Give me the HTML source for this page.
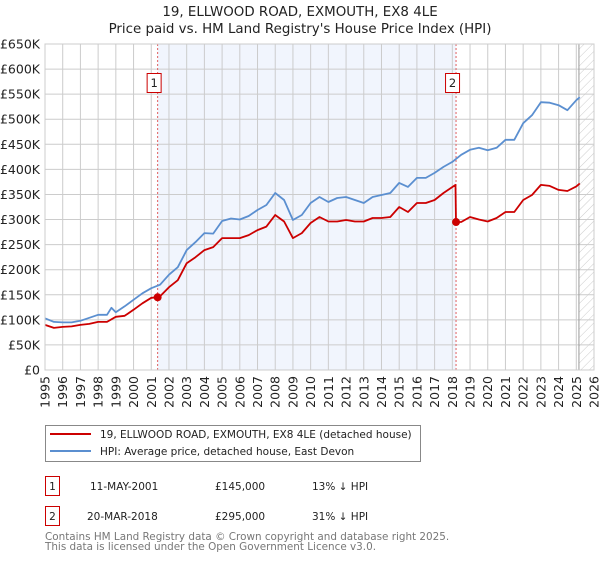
<!DOCTYPE html>
<html><head><meta charset="utf-8"><style>
body{margin:0;background:#fff;font-family:"DejaVu Sans","Liberation Sans",sans-serif;}
svg text{font-family:"DejaVu Sans","Liberation Sans",sans-serif;}
</style></head><body>
<svg id="chart" width="600" height="560" xmlns="http://www.w3.org/2000/svg">
<defs><pattern id="hatch" width="6" height="6" patternUnits="userSpaceOnUse" patternTransform="rotate(45)"><line x1="0" y1="0" x2="0" y2="6" stroke="#ccc" stroke-width="1"/></pattern></defs>
<text x="300" y="16" text-anchor="middle" font-size="13.4" fill="#222">19, ELLWOOD ROAD, EXMOUTH, EX8 4LE</text>
<text x="300" y="33" text-anchor="middle" font-size="13.4" fill="#222">Price paid vs. HM Land Registry's House Price Index (HPI)</text>
<g id="plot"></g>
<g>
<rect x="45.5" y="425.5" width="375" height="36" fill="#fff" stroke="#888"/>
<line x1="50" y1="434" x2="91" y2="434" stroke="#cc0000" stroke-width="2"/>
<text x="100" y="438" font-size="10.5" fill="#222">19, ELLWOOD ROAD, EXMOUTH, EX8 4LE (detached house)</text>
<line x1="50" y1="451" x2="91" y2="451" stroke="#5b8fd0" stroke-width="2"/>
<text x="100" y="455" font-size="10.5" fill="#222">HPI: Average price, detached house, East Devon</text>
</g>
<g font-size="10.5" fill="#222">
<rect x="45.5" y="476.5" width="14" height="19" fill="#fff" stroke="#cc0000"/>
<text x="52.5" y="490" text-anchor="middle">1</text>
<text x="90" y="490">11-MAY-2001</text><text x="215" y="490">£145,000</text><text x="312" y="490">13% ↓ HPI</text>
<rect x="45.5" y="506.5" width="14" height="19" fill="#fff" stroke="#cc0000"/>
<text x="52.5" y="520" text-anchor="middle">2</text>
<text x="87" y="520">20-MAR-2018</text><text x="215" y="520">£295,000</text><text x="312" y="520">31% ↓ HPI</text>
</g>
<text x="45" y="540" font-size="10.4" fill="#777">Contains HM Land Registry data © Crown copyright and database right 2025.</text>
<text x="45" y="550" font-size="10.4" fill="#777">This data is licensed under the Open Government Licence v3.0.</text>
</svg>
<script>
const hpiYears=[1995,1995.5,1996,1996.5,1997,1997.5,1998,1998.5,1998.75,1999,1999.5,2000,2000.5,2001,2001.5,2002,2002.5,2003,2003.5,2004,2004.5,2005,2005.5,2006,2006.5,2007,2007.5,2008,2008.5,2009,2009.5,2010,2010.5,2011,2011.5,2012,2012.5,2013,2013.5,2014,2014.5,2015,2015.5,2016,2016.5,2017,2017.5,2018,2018.5,2019,2019.5,2020,2020.5,2021,2021.5,2022,2022.5,2023,2023.5,2024,2024.5,2025,2025.2];
const hpiValues=[103,96,95,95,98,104,110,110,124,115,127,140,153,163,170,190,205,239,255,273,272,297,302,300,307,319,329,353,339,299,309,333,345,335,343,345,339,333,345,349,353,373,365,383,383,393,405,415,429,439,443,438,443,459,459,492,508,534,533,528,518,538,544];
const ppYears=[1995,1995.5,1996,1996.5,1997,1997.5,1998,1998.5,1999,1999.5,2000,2000.5,2001,2001.36,2001.5,2002,2002.5,2003,2003.5,2004,2004.5,2005,2005.5,2006,2006.5,2007,2007.5,2008,2008.5,2009,2009.5,2010,2010.5,2011,2011.5,2012,2012.5,2013,2013.5,2014,2014.5,2015,2015.5,2016,2016.5,2017,2017.5,2018.18,2018.21,2018.5,2019,2019.5,2020,2020.5,2021,2021.5,2022,2022.5,2023,2023.5,2024,2024.5,2025,2025.2];
const ppValues=[90,84,86,87,90,92,96,96,106,108,120,133,144,145,147,165,179,213,225,239,245,263,263,263,269,279,286,309,296,263,273,293,305,296,296,299,296,296,303,303,305,325,315,333,333,339,353,369,295,295,305,300,296,303,315,315,339,349,369,367,359,357,366,372];
const saleYears=[2001.36,2018.21];
const saleValues=[145,295];
const saleLabels=["1","2"];
const yTicks=[0,50,100,150,200,250,300,350,400,450,500,550,600,650];
const xTicks=[1995,1996,1997,1998,1999,2000,2001,2002,2003,2004,2005,2006,2007,2008,2009,2010,2011,2012,2013,2014,2015,2016,2017,2018,2019,2020,2021,2022,2023,2024,2025,2026];
const X0=45,X1=594,Y0=370,Y1=44;
const xs=y=>X0+(y-1995)/(2026-1995)*(X1-X0);
const ys=v=>Y0-v/650*(Y0-Y1);
const NS="http://www.w3.org/2000/svg";
const g=document.getElementById('plot');
function mk(t,a,p){const e=document.createElementNS(NS,t);for(const k in a)e.setAttribute(k,a[k]);(p||g).appendChild(e);return e;}
let sh=mk('rect',{x:xs(saleYears[0]),y:Y1,width:xs(saleYears[1])-xs(saleYears[0]),height:Y0-Y1,fill:'#eef3fc',opacity:0.8});


let ht=mk('rect',{x:xs(2025.15),y:Y1,width:X1-xs(2025.15),height:Y0-Y1,fill:'url(#hatch)'});


yTicks.forEach(v=>{
 const l=mk('line',{x1:X0,x2:X1,y1:ys(v),y2:ys(v),stroke:'#cccccc','stroke-width':1});
 
 
 const t=mk('text',{x:40,y:ys(v)+4.5,'text-anchor':'end','font-size':12.5,fill:'#222'});
 t.textContent=v===0?'£0':'£'+v+'K';
 
 
});
xTicks.forEach(yr=>{
 const l=mk('line',{x1:xs(yr),x2:xs(yr),y1:Y1,y2:Y0,stroke:'#cccccc','stroke-width':1});
 
 
 const t=mk('text',{x:0,y:0,'text-anchor':'end','font-size':12.5,fill:'#222',transform:`translate(${xs(yr)+4.5},376) rotate(-90)`});
 t.textContent=yr;
 
 
});
let vl=mk('line',{x1:xs(2025.15),x2:xs(2025.15),y1:Y1,y2:Y0,stroke:'#999','stroke-width':1});


saleYears.forEach((yr,i)=>{
 const l=mk('line',{x1:xs(yr),x2:xs(yr),y1:Y1,y2:Y0,stroke:'#e06060','stroke-width':1,'stroke-dasharray':'2,2'});
 
 
});
const pts=(xa,va)=>xa.map((x,i)=>xs(x).toFixed(1)+','+ys(va[i]).toFixed(1)).join(' ');
let hl=mk('polyline',{points:pts(hpiYears,hpiValues),fill:'none',stroke:'#5b8fd0','stroke-width':1.8,'stroke-linejoin':'round'});


let pl=mk('polyline',{points:pts(ppYears,ppValues),fill:'none',stroke:'#cc0000','stroke-width':1.8,'stroke-linejoin':'round'});


saleYears.forEach((yr,i)=>{
 const c=mk('circle',{cx:xs(yr),cy:ys(saleValues[i]),r:4,fill:'#cc0000'});
 
 
 const bx=xs(yr)-11;
 const r=mk('rect',{x:bx+0.5,y:73.5,width:14,height:19,fill:'#fff',stroke:'#cc0000'});
 
 
 const t=mk('text',{x:bx+7.5,y:87,'text-anchor':'middle','font-size':11.5,fill:'#222'});
 t.textContent=saleLabels[i];
 
 
});
let fr=mk('rect',{x:X0,y:Y1,width:X1-X0,height:Y0-Y1,fill:'none',stroke:'#ccc'});


</script>
</body></html>
